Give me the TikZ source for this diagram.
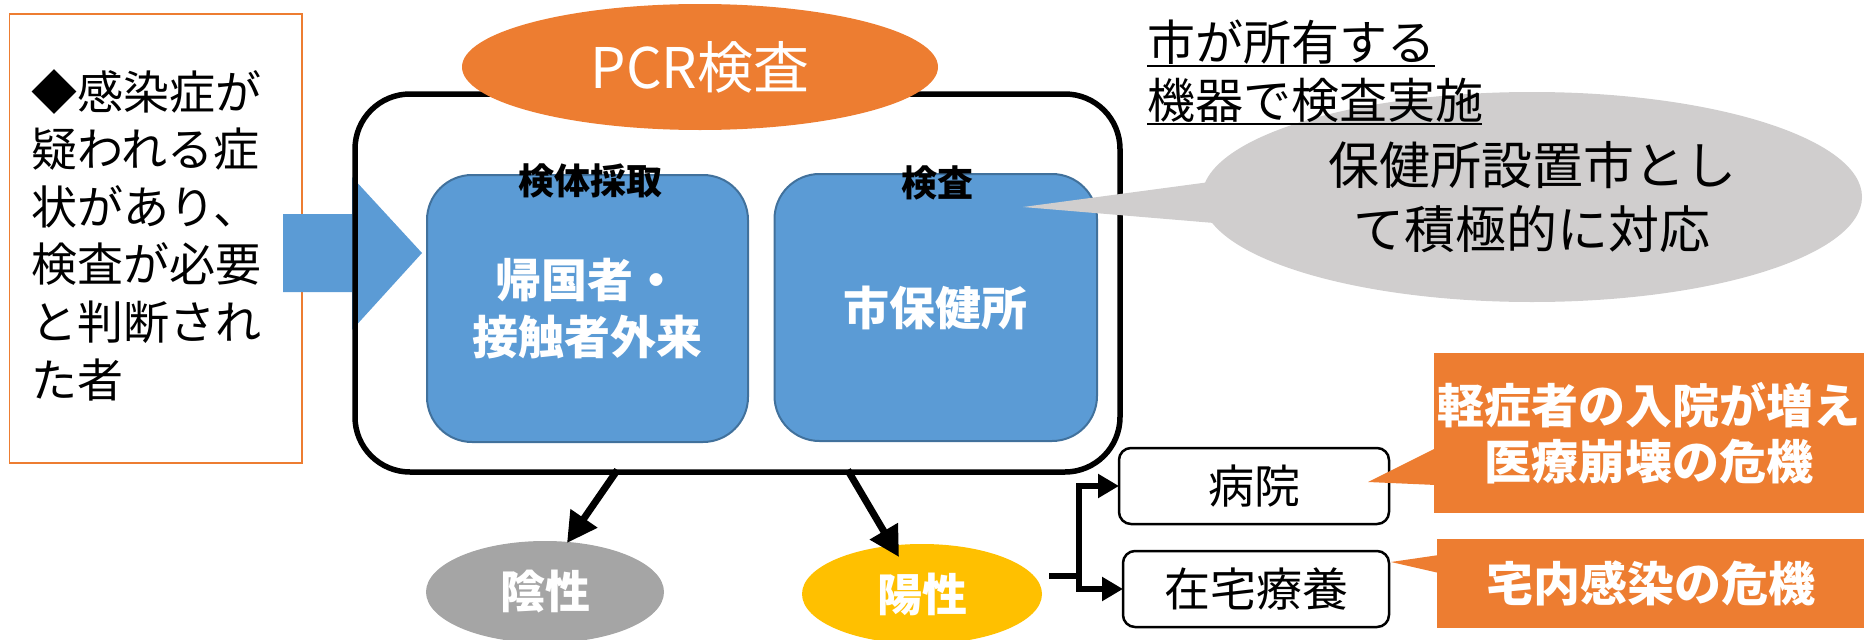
\documentclass[tikz,border=0pt]{standalone}
\usepackage{fontspec}
\setmainfont{Noto Sans CJK JP}
\usetikzlibrary{arrows.meta,shapes.geometric,calc}
\definecolor{orangeA}{HTML}{ED7D31}
\definecolor{blueA}{HTML}{5B9BD5}
\definecolor{blueB}{HTML}{41719C}
\definecolor{grayA}{HTML}{A5A5A5}
\definecolor{grayC}{HTML}{D0CECE}
\definecolor{goldA}{HTML}{FFC000}
\begin{document}
\begin{tikzpicture}[x=1pt,y=-1pt,
  every node/.style={inner sep=0pt, outer sep=0pt},
  condbox/.style={draw=orangeA, line width=1.8pt, fill=white},
  condtext/.style={anchor=base west, font=\fontsize{46}{57.6}\selectfont},
  frame/.style={draw=black, line width=5.5pt, rounded corners=55pt},
  bluebox/.style={draw=blueB, fill=blueA, line width=2pt, rounded corners=45pt,
    text=white, align=center, font=\bfseries\fontsize{46}{57}\selectfont},
  boxlabel/.style={font=\bfseries\fontsize{36}{40}\selectfont},
  title/.style={ellipse, fill=orangeA, text=white, font=\fontsize{56}{60}\selectfont},
  result/.style={ellipse, text=white, font=\bfseries\fontsize{45}{50}\selectfont},
  bigarr/.style={line width=7pt, -{Triangle[length=30pt,width=31pt]}},
  elbarr/.style={line width=5.5pt, -{Triangle[length=21pt,width=23pt]}},
  placebox/.style={draw=black, line width=2.5pt, rounded corners=12pt,
    font=\fontsize{46}{50}\selectfont},
  riskbox/.style={fill=orangeA, text=white, align=center,
    font=\bfseries\fontsize{47}{56}\selectfont},
  note/.style={anchor=base west, font=\fontsize{48}{52}\selectfont},
]
\useasboundingbox (0,0) rectangle (1864,640);

% condition box
\node[condbox, minimum width=292.5pt, minimum height=449pt] (cond) at (155.75,238.5) {};
\foreach \t [count=\i from 0] in {◆感染症が,疑われる症,状があり、,検査が必要,と判断され,た者}
  \node[condtext] (c\i) at (31.6,{109+57.6*\i}) {\t};

% big blue arrow
\fill[blueA] (283,214) -- (352,214) -- (352,177) -- (422,253) -- (352,330)
  -- (352,292) -- (283,292) -- cycle;

% main frame
\node[frame, minimum width=765pt, minimum height=378pt] (pcr) at (737.5,283) {};

% title ellipse
\node[title, minimum width=476pt, minimum height=126pt] (ttl) at (700,67) {PCR検査};

% blue boxes
\node[bluebox, minimum width=321pt, minimum height=267pt] (saishu) at (587.5,308.5) {帰国者・\\接触者外来};
\node[bluebox, minimum width=322.5pt, minimum height=267pt] (kensa) at (935.75,307.5) {市保健所};
\node[boxlabel] (lab1) at (590,181) {検体採取};
\node[boxlabel] (lab2) at (937,183) {検査};

% gray callout
\coordinate (gtip) at (1023,207);
\fill[grayC] (gtip) -- (1262,175) -- (1262,227) -- cycle;
\node[ellipse, fill=grayC, minimum width=660pt, minimum height=210pt, align=center,
  font=\fontsize{51}{64}\selectfont] (gcall) at (1532,197) {保健所設置市とし\\て積極的に対応};

% underlined note
\node[note] (n1) at (1147,60) {市が所有する};
\node[note] (n2) at (1147,118) {機器で検査実施};
\draw[line width=2.5pt] (1147,66) -- (1435,66);
\draw[line width=2.5pt] (1147,124) -- (1482,124);

% results
\node[result, fill=grayA, minimum width=238pt, minimum height=102pt] (yin) at (545,592) {陰性};
\node[result, fill=goldA, minimum width=240pt, minimum height=100pt] (yang) at (922,594) {陽性};
\draw[bigarr] ($(pcr.south west)!0.343!(pcr.south east)+(0,-2)$) -- ($(yin.center)+(22,-49)$);
\draw[bigarr] ($(pcr.south west)!0.644!(pcr.south east)+(0,-2)$) -- ($(yang.center)+(-23,-37)$);

% places
\node[placebox, minimum width=270pt, minimum height=76pt] (byoin) at (1254,486) {病院};
\node[placebox, minimum width=266pt, minimum height=76pt] (zaitaku) at (1256,589) {在宅療養};
\coordinate (yout) at ($(yang.east)+(7,-18)$);
\draw[elbarr] (yout) -- ++(30,0) |- (byoin.west);
\draw[elbarr] (yout) -- ++(30,0) |- (zaitaku.west);

% risk callouts
\node[riskbox, minimum width=430pt, minimum height=160pt] (risk1) at (1649,433) {軽症者の入院が増え\\医療崩壊の危機};
\node[riskbox, minimum width=427pt, minimum height=89pt] (risk2) at (1650.5,583.5) {宅内感染の危機};
\fill[orangeA] ($(byoin.east)+(-21,-4)$) -- ($(risk1.west)+(2,15)$) -- ($(risk1.west)+(2,52)$) -- cycle;
\fill[orangeA] ($(zaitaku.east)+(2,-27)$) -- ($(risk2.west)+(2,-28.5)$) -- ($(risk2.west)+(2,-10.5)$) -- cycle;
\end{tikzpicture}
\end{document}
